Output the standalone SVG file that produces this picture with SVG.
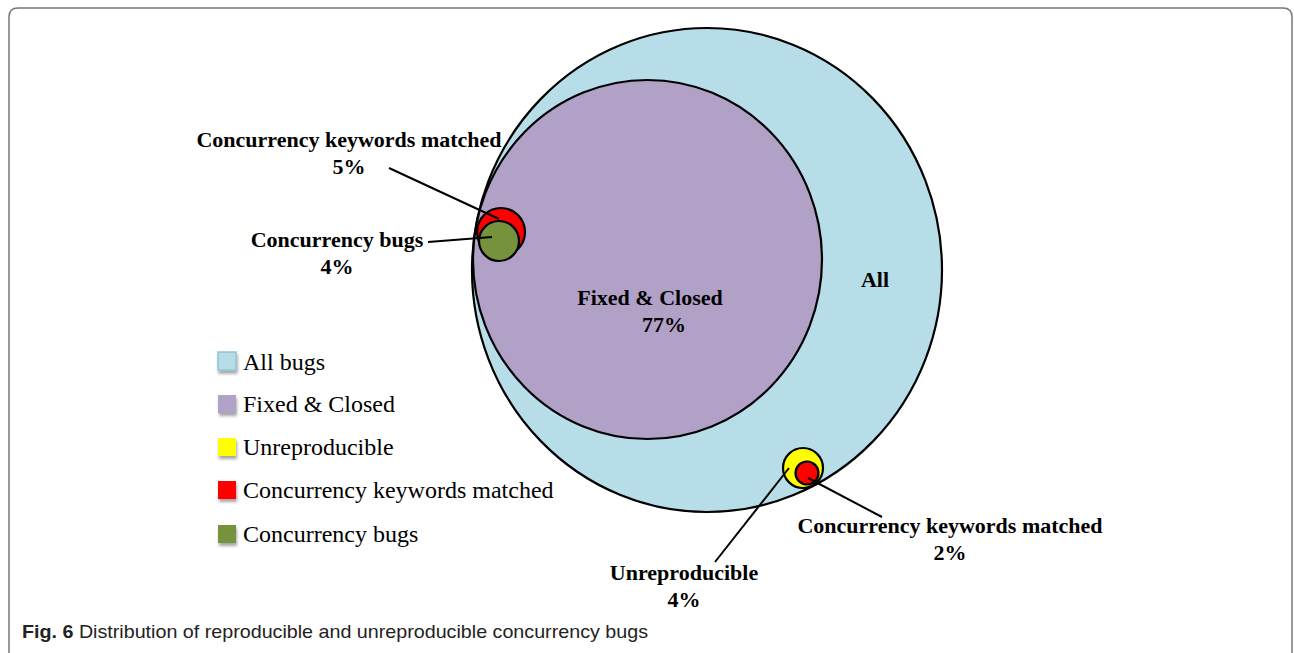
<svg xmlns="http://www.w3.org/2000/svg" width="1294" height="653" viewBox="0 0 1294 653">
<style>
.lbl{font-family:"Liberation Serif",serif;font-weight:bold;font-size:22px;fill:#000;text-anchor:middle}
.leg{font-family:"Liberation Serif",serif;font-size:24px;fill:#000}
.ol{stroke:#000;stroke-width:2.2}
.ln{stroke:#000;stroke-width:2;fill:none}
.cap{font-family:"Liberation Sans",sans-serif;font-size:18.5px;fill:#222}
</style>
<defs>
<filter id="sh" x="-30%" y="-30%" width="180%" height="180%">
<feDropShadow dx="1" dy="3" stdDeviation="1.5" flood-color="#000" flood-opacity="0.35"/>
</filter>
</defs>
<rect width="1294" height="653" fill="#fff"/>
<path d="M9 660 V17 Q9 8 18 8 H1283 Q1292 8 1292 17 V660" fill="none" stroke="#777" stroke-width="1.5"/>
<g id="all"><ellipse cx="707" cy="270" rx="235" ry="242" fill="#b7dde8" class="ol"/><text class="lbl" x="875" y="287">All</text></g>
<g id="fixed"><ellipse cx="647.5" cy="259.5" rx="174.5" ry="179.5" fill="#b2a1c7" class="ol"/><text class="lbl" x="650" y="305">Fixed &amp; Closed</text><text class="lbl" x="664" y="332">77%</text></g>
<g id="kw5"><circle cx="501" cy="232" r="24" fill="#ff0000" class="ol"/></g>
<g id="cb4"><circle cx="499" cy="241" r="20" fill="#76923c" class="ol"/></g>
<g id="unrep"><circle cx="803" cy="468" r="20" fill="#ffff00" class="ol"/></g>
<g id="kw2"><circle cx="807" cy="473" r="11.5" fill="#ff0000" class="ol"/></g>
<g id="connectors">
<line class="ln" x1="389" y1="168" x2="499" y2="219"/>
<line class="ln" x1="428" y1="242" x2="492" y2="237"/>
<line class="ln" x1="715" y1="562" x2="789" y2="468"/>
<line class="ln" x1="808" y1="478" x2="882" y2="517"/>
</g>
<g id="labels">
<text class="lbl" x="349" y="147">Concurrency keywords matched</text><text class="lbl" x="349" y="174">5%</text>
<text class="lbl" x="337" y="247">Concurrency bugs</text><text class="lbl" x="337" y="274">4%</text>
<text class="lbl" x="950" y="533">Concurrency keywords matched</text><text class="lbl" x="950" y="560">2%</text>
<text class="lbl" x="684" y="580">Unreproducible</text><text class="lbl" x="684" y="607">4%</text>
</g>
<g id="legend">
<rect x="218" y="352" width="18" height="18" fill="#b7dde8" stroke="#8fc6d6" stroke-width="1.5" filter="url(#sh)"/><text class="leg" x="243" y="370">All bugs</text>
<rect x="218" y="395" width="18" height="18" fill="#b2a1c7" filter="url(#sh)"/><text class="leg" x="243" y="412">Fixed &amp; Closed</text>
<rect x="218" y="438" width="18" height="18" fill="#ffff00" filter="url(#sh)"/><text class="leg" x="243" y="455">Unreproducible</text>
<rect x="218" y="481" width="18" height="18" fill="#ff0000" filter="url(#sh)"/><text class="leg" x="243" y="498">Concurrency keywords matched</text>
<rect x="218" y="525" width="18" height="18" fill="#76923c" filter="url(#sh)"/><text class="leg" x="243" y="542">Concurrency bugs</text>
</g>
<text class="cap" x="22" y="638" textLength="626" lengthAdjust="spacingAndGlyphs"><tspan font-weight="bold">Fig. 6</tspan> Distribution of reproducible and unreproducible concurrency bugs</text>
</svg>
